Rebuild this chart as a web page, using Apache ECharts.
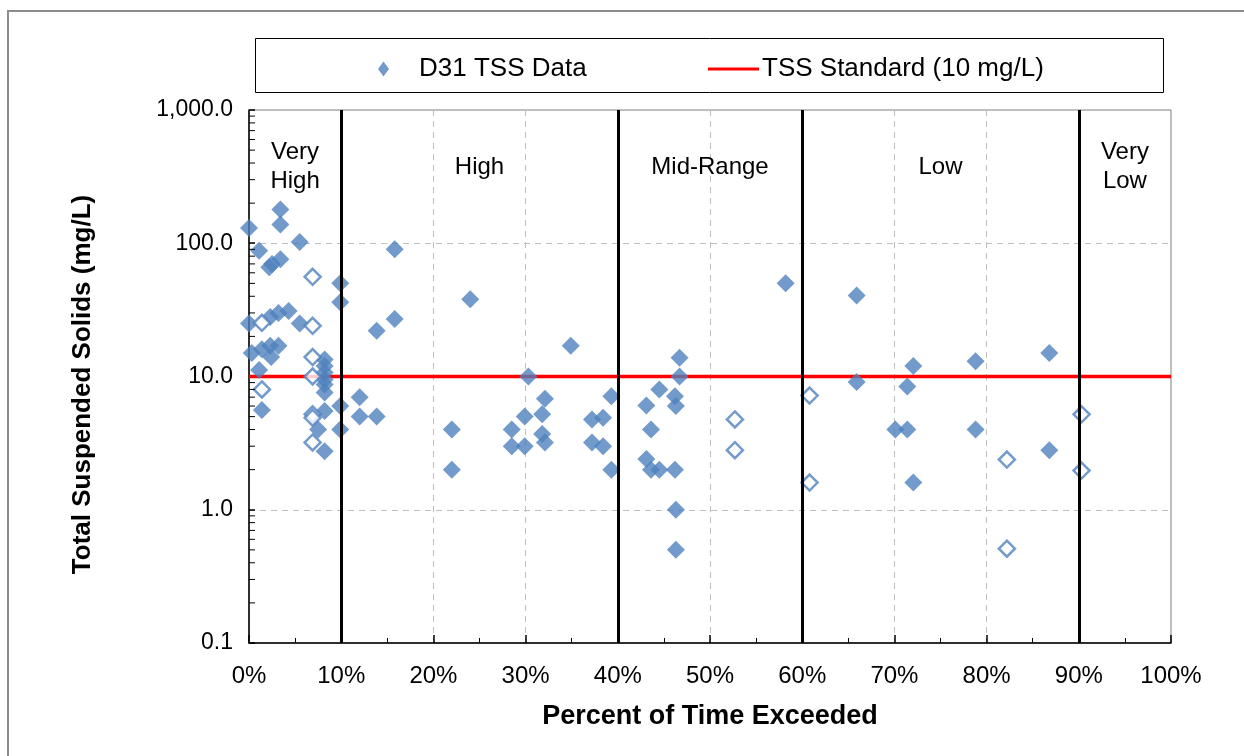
<!DOCTYPE html>
<html><head><meta charset="utf-8">
<script src="https://cdn.jsdelivr.net/npm/echarts@6/dist/echarts.min.js"></script>
<style>html,body{margin:0;padding:0;background:#fff}#c{width:1244px;height:756px}</style>
</head><body><div id="c"></div>
<script>
// Percent of time exceeded (x) and TSS mg/L (y), detected samples
const dataX = [0.0,1.1,3.4,3.4,5.5,2.2,2.5,3.4,9.9,9.9,0.0,2.3,3.2,4.3,5.5,0.3,1.4,2.3,3.2,2.4,1.1,1.4,8.2,8.2,8.2,8.2,8.2,8.2,8.2,7.5,8.2,9.9,9.9,
  12.0,12.0,13.85,13.85,15.8,15.8,22.0,22.0,24.0,28.5,28.5,29.9,29.9,30.3,31.8,31.8,32.1,32.1,34.9,37.2,37.2,38.4,38.4,39.3,39.3,
  43.1,43.1,43.6,43.6,44.5,44.5,46.2,46.3,46.2,46.3,46.3,46.7,46.7,58.2,
  65.9,65.9,70.1,71.4,71.4,72.05,72.05,78.8,78.8,86.8,86.8];
const dataY = [130,88,179,138,102,66,70,76,50,36,25,28,30,31,25,15,16,17,17,14,11.2,5.6,13.4,12,10.7,9.5,8.7,7.6,5.5,4.0,2.75,6,4,
  7,5,5,22,90,27,4,2,38,4,3,5,3,10,5.2,3.7,6.8,3.2,17,4.75,3.2,4.9,3.0,7.1,2.0,
  6.05,2.4,4.0,2.0,8.0,2.0,7.1,6.0,2.0,1.0,0.5,13.8,10,50,
  40.5,9.1,4.0,4.0,8.4,12,1.6,13,4.0,15,2.8];
// Hollow markers (non-detect / estimated samples)
const openX = [6.9,1.4,6.9,6.9,6.9,1.4,6.9,6.9,6.9,52.7,52.7,60.8,60.8,82.2,82.2,90.3,90.3];
const openY = [56,25.3,24,14,10,8,5.2,4.9,3.2,4.76,2.8,7.2,1.6,2.38,0.51,5.2,1.97];
// Standard
const standardX = [0, 100];
const standardY = [10, 10];
// Flow zone boundaries and labels
const zoneBreaks = [0, 10, 40, 60, 90, 100];
const zoneNames = ['Very\nHigh', 'High', 'Mid-Range', 'Low', 'Very\nLow'];
const yTicks = [0.1, 1, 10, 100, 1000];
const minorMult = [2,3,4,5,6,7,8,9];

const FONT = 'Liberation Sans, Arial, sans-serif';
const BLUE = '#4F81BD';

const pts = dataX.map((x,i)=>[x, dataY[i]]);
const openPts = openX.map((x,i)=>[x, openY[i]]);
const stdPts = standardX.map((x,i)=>[x, standardY[i]]);
const minorVals = [];
yTicks.slice(0,-1).forEach(d=>minorMult.forEach(m=>minorVals.push([0, d*m])));

const chart = echarts.init(document.getElementById('c'), null, {renderer:'canvas'});
chart.setOption({
  animation: false,
  backgroundColor: '#fff',
  graphic: [
    {type:'rect', shape:{x:8,y:11,width:1260,height:770}, style:{fill:'none', stroke:'#8c8c8c', lineWidth:2}, z:-1},
    {type:'rect', shape:{x:255.5,y:38.5,width:908,height:54}, style:{fill:'none', stroke:'#000', lineWidth:1}, z:-1}
  ],
  legend: [
    {data:[{name:'D31 TSS Data', icon:'diamond'}], left:373, top:51, itemWidth:11, itemHeight:15,
     textStyle:{fontFamily:FONT, fontSize:26, color:'#000', padding:[0,0,0,25]}},
    {data:[{name:'TSS Standard (10 mg/L)', icon:'rect'}], left:703, top:51, itemWidth:51, itemHeight:3,
     textStyle:{fontFamily:FONT, fontSize:26, color:'#000', padding:[0,0,0,-2]}}
  ],
  grid: {left:249, right:73, top:110, bottom:113, show:true, borderColor:'#7f7f7f', borderWidth:1, containLabel:false},
  xAxis: {
    type:'value', min:0, max:100, interval:10,
    name:'Percent of Time Exceeded', nameLocation:'middle', nameGap:60,
    nameTextStyle:{fontFamily:FONT, fontSize:27, fontWeight:'bold', color:'#000'},
    axisLine:{show:true, lineStyle:{color:'#000', width:1.5}},
    axisTick:{show:true, inside:true, length:8, lineStyle:{color:'#000', width:1.5}},
    minorTick:{show:true, splitNumber:2, length:5, lineStyle:{color:'#000', width:1}},
    axisLabel:{formatter:'{value}%', fontFamily:FONT, fontSize:24, color:'#000', margin:21},
    splitLine:{show:true, lineStyle:{color:'#bfbfbf', type:[6,5], width:1}}
  },
  yAxis: {
    type:'log', logBase:10, min:0.1, max:1000,
    name:'Total Suspended Solids (mg/L)', nameLocation:'middle', nameGap:153,
    nameTextStyle:{fontFamily:FONT, fontSize:26, fontWeight:'bold', color:'#000', padding:[0,16,0,0]},
    axisLine:{show:true, lineStyle:{color:'#000', width:1.5}},
    axisTick:{show:true, inside:true, length:6, lineStyle:{color:'#000', width:1.5}},
    axisLabel:{fontFamily:FONT, fontSize:23, color:'#000', margin:16,
      formatter: v => Number(v).toLocaleString('en-US',{minimumFractionDigits:1, maximumFractionDigits:1})},
    splitLine:{show:true, lineStyle:{color:'#bfbfbf', type:[6,5], width:1}}
  },
  series: [
    {
      type:'custom', name:'minorTicks', silent:true, z:5,
      data: minorVals,
      renderItem: (params, api) => {
        const p = api.coord([api.value(0), api.value(1)]);
        return {type:'line', shape:{x1:p[0], y1:p[1], x2:p[0]+6, y2:p[1]}, style:{stroke:'#000', lineWidth:1}};
      }
    },
    {
      type:'line', name:'TSS Standard (10 mg/L)', data:stdPts, symbol:'none', z:3,
      lineStyle:{color:'#FF0000', width:3.5}, itemStyle:{color:'#FF0000'},
      markLine:{
        silent:true, symbol:'none', label:{show:false},
        lineStyle:{color:'#000', width:3, type:'solid'},
        data: zoneBreaks.slice(1,-1).map(v=>({xAxis:v}))
      },
      markArea:{
        silent:true, itemStyle:{color:'rgba(0,0,0,0)'},
        label:{show:true, position:'insideTop', distance:57, verticalAlign:'middle', align:'center',
          fontFamily:FONT, fontSize:24, color:'#000', lineHeight:29},
        data: zoneNames.map((n,i)=>[{name:n, xAxis:zoneBreaks[i]}, {xAxis:zoneBreaks[i+1]}])
      }
    },
    {
      type:'scatter', name:'D31 TSS Data', data:pts, symbol:'diamond', symbolSize:[18,18], z:4,
      itemStyle:{color:BLUE}
    },
    {
      type:'scatter', name:'open', data:openPts, symbol:'diamond', symbolSize:[16,16], z:4,
      itemStyle:{color:'#fff', borderColor:BLUE, borderWidth:2.5}
    }
  ]
});
</script></body></html>
